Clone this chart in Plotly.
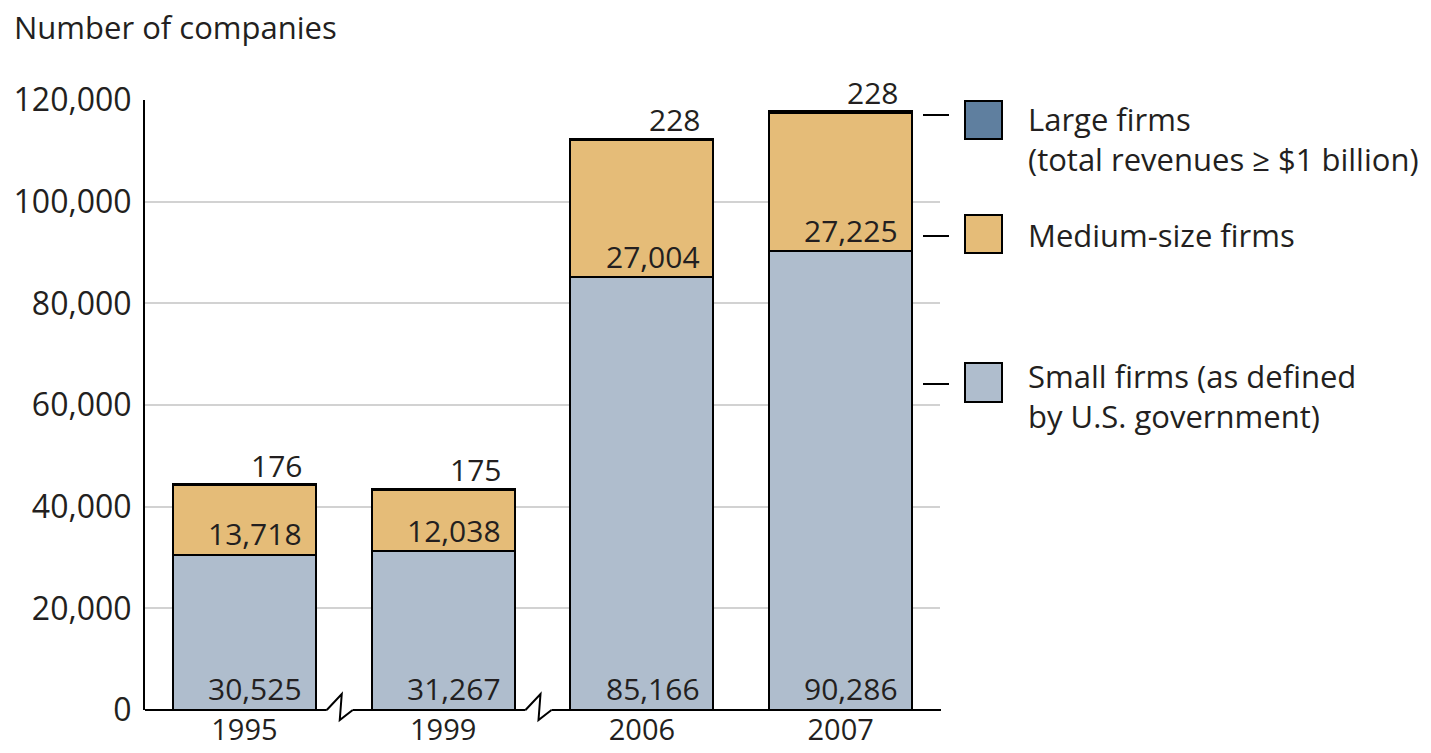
import plotly.graph_objects as go

years = ["1995", "1999", "2006", "2007"]
small = [30525, 31267, 85166, 90286]
medium = [13718, 12038, 27004, 27225]
large = [176, 175, 228, 228]

series_names = ["Small firms (as defined<br>by U.S. government)",
                "Medium-size firms",
                "Large firms<br>(total revenues \u2265 $1 billion)"]
colors = ["#AFBDCD", "#E5BC78", "#5F7F9F"]

yticks = [0, 20000, 40000, 60000, 80000, 100000, 120000]
ytick_text = ["0", "20,000", "40,000", "60,000", "80,000", "100,000", "120,000"]

FONT = "Open Sans"
FS_TICK = 32
FS_XTICK = 29
FS_LBL = 30
FS_TXT = 31
TXT = "#231f20"

W, H = 1431, 753
ML, MR, MT, MB = 145, 491, 100, 43
PW = W - ML - MR
PH = H - MT - MB

def px_x(p):
    return (p - ML) / PW

def px_y(p):
    return (H - MB - p) / PH

xs = list(range(len(years)))
fig = go.Figure()
for vals, name, col in zip([small, medium, large], series_names, colors):
    fig.add_trace(go.Bar(
        x=xs, y=vals, name=name, width=0.72,
        marker=dict(color=col, line=dict(color="black", width=2)),
        showlegend=False, hoverinfo="skip",
    ))

fmt = lambda v: f"{v:,}"
annotations = []
for i in xs:
    base_med = small[i]
    total = small[i] + medium[i] + large[i]
    for yv, txt, ys in [(0, small[i], 22), (base_med, medium[i], 21), (total, large[i], 19)]:
        annotations.append(dict(
            x=i + 0.3, y=yv, xref="x", yref="y", text=fmt(txt), showarrow=False,
            xanchor="right", yanchor="middle", yshift=ys,
            font=dict(family=FONT, size=FS_LBL, color=TXT)))

# title
annotations.append(dict(x=px_x(12), y=px_y(27), xref="paper", yref="paper",
                        text="Number of companies", showarrow=False,
                        xanchor="left", yanchor="middle",
                        font=dict(family=FONT, size=FS_TXT, color=TXT)))

shapes = []
# legend items
legend_items = [
    (series_names[2], colors[2], (101, 139), 115, 139),
    (series_names[1], colors[1], (215, 253), 236, 235),
    (series_names[0], colors[0], (363, 402), 384, 396),
]
for name, col, (sy0, sy1), dy, ty in legend_items:
    shapes.append(dict(type="rect", xref="paper", yref="paper",
                       x0=px_x(965), x1=px_x(1002), y0=px_y(sy1), y1=px_y(sy0),
                       fillcolor=col, line=dict(color="black", width=2)))
    shapes.append(dict(type="line", xref="paper", yref="paper",
                       x0=px_x(923), x1=px_x(949), y0=px_y(dy), y1=px_y(dy),
                       line=dict(color="black", width=2)))
    annotations.append(dict(x=px_x(1026), y=px_y(ty), xref="paper", yref="paper",
                            text=name, showarrow=False, xanchor="left", yanchor="middle",
                            align="left",
                            font=dict(family=FONT, size=FS_TXT, color=TXT)))

# baseline with axis breaks between 1995-1999 and 1999-2006
breaks = [(0 + 1) / 2, (1 + 2) / 2]
bpx = [(b + 0.5) / len(years) - 3 / PW for b in breaks]
dxp = lambda p: p / PW
dyp = lambda p: p / PH
segs = [0.0]
for b in bpx:
    segs += [b - dxp(14), b + dxp(12)]
segs.append(1.0 + dxp(1))
for k in range(0, len(segs), 2):
    shapes.append(dict(type="line", xref="paper", yref="paper",
                       x0=segs[k], x1=segs[k + 1], y0=0, y1=0,
                       line=dict(color="black", width=2)))
for b in bpx:
    pts = [(b - dxp(14), 0), (b + dxp(1), dyp(16)), (b - dxp(1), -dyp(10)), (b + dxp(12), 0)]
    path = "M " + " L ".join(f"{x},{y}" for x, y in pts)
    shapes.append(dict(type="path", xref="paper", yref="paper", path=path,
                       line=dict(color="black", width=2)))

fig.update_layout(
    width=W, height=H,
    margin=dict(l=ML, r=MR, t=MT, b=MB, autoexpand=False),
    barmode="stack", bargap=0.28,
    plot_bgcolor="white", paper_bgcolor="white",
    font=dict(family=FONT, size=FS_TXT, color=TXT),
    annotations=annotations, shapes=shapes,
    xaxis=dict(range=[-0.5, len(years) - 0.5], tickvals=xs, ticktext=years,
               showgrid=False, zeroline=False, showline=False, ticks="",
               ticklabelstandoff=0, automargin=False,
               tickfont=dict(family=FONT, size=FS_XTICK, color=TXT), fixedrange=True),
    yaxis=dict(range=[0, 120000], tickvals=yticks, ticktext=ytick_text,
               showgrid=True, gridcolor="#d2d2d2", gridwidth=1.5,
               zeroline=False, showline=True, linecolor="black", linewidth=2,
               ticks="", ticklabelstandoff=5, automargin=False,
               tickfont=dict(family=FONT, size=FS_TICK, color=TXT), fixedrange=True),
)

fig.write_html("out.html", config={"displayModeBar": False},
               post_script="document.body.style.margin='0px';document.body.style.overflow='hidden';")
